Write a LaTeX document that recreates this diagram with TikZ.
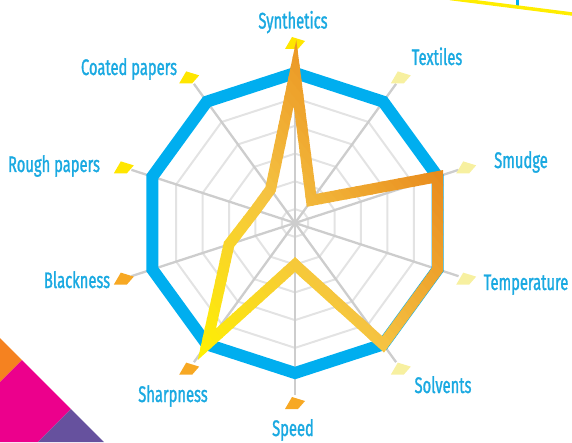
\documentclass[tikz,border=0pt]{standalone}
\usepackage{fontspec}
\newfontfamily\labfont[FakeStretch=0.655, FakeBold=1.2]{Fira Sans}
\usetikzlibrary{calc}
\definecolor{lblue}{HTML}{1AA9E1}
\definecolor{cyanb}{HTML}{00AEEF}
\definecolor{ringgray}{HTML}{E3E3E3}
\definecolor{spokegray}{HTML}{CDCDCD}
\definecolor{fyel}{HTML}{FFE600}
\definecolor{fpale}{HTML}{F7F0A0}
\definecolor{fora}{HTML}{F7A823}
\definecolor{gyel}{HTML}{FFF100}
\definecolor{gmid}{HTML}{F5C342}
\definecolor{gora}{HTML}{E88A1C}
\definecolor{dorange}{HTML}{F58220}
\definecolor{dpink}{HTML}{EC008C}
\definecolor{dpurple}{HTML}{66519E}
\definecolor{dyellow}{HTML}{FFED00}
\begin{document}
\begin{tikzpicture}[x=1pt,y=1pt,
  ring/.style={draw=ringgray, line width=2pt, line join=miter},
  spoke/.style={draw=spokegray, line width=2.3pt},
  frame/.style={draw=cyanb, line width=12pt, line join=miter},
  dataline/.style={line width=11pt, line join=miter, miter limit=12},
  lab/.style={text=lblue, font=\labfont\fontsize{22.5}{26}\selectfont, anchor=base, inner sep=0pt}]
\useasboundingbox (0,0) rectangle (572,442);
% corner decorations
\begin{scope}
  \clip (0,0) rectangle (572,442);
  \fill[dorange] (0,104) -- (22,82) -- (0,60) -- cycle;
  \fill[dpink] (22,82) -- (71,33) -- (38,0) -- (0,0) -- (0,60) -- cycle;
  \fill[dpurple] (71,33) -- (104,0) -- (38,0) -- cycle;
  \coordinate (bt) at (517,444);
  \coordinate (bb) at (517,436);
  \draw[cyanb, line width=3pt] (bt) -- (bb);
  \coordinate (ya) at (450,443.5);
  \coordinate (yb) at (576,427.5);
  \draw[dyellow, line width=3.5pt] (ya) -- (yb);
\end{scope}
\begin{scope}[shift={(295,219)}]
  \coordinate (c) at (0,0);
  \foreach \k in {0,...,4} {
    \pgfmathsetmacro\r{27.75*(\k+0.5)}
    \draw[ring] (90:\r) \foreach \a in {54,18,-18,-54,-90,-126,-162,-198,-234} {-- (\a:\r)} -- cycle;
  }
  \foreach \a/\r [count=\i] in {90/150, 54/28, 18/150, -18/150, -54/150, -90/41.6, -126/150, -162/69.4, -198/41.6, -234/41.6} {
    \coordinate (s\i) at (\a:172);
    \coordinate (b\i) at (\a:150);
    \coordinate (f\i) at (\a:180);
    \coordinate (d\i) at (\a:\r);
  }
  \foreach \i in {1,...,10} {\draw[spoke] (c) -- (s\i);}
\end{scope}
\draw[frame] (b1) -- (b2) -- (b3) -- (b4) -- (b5) -- (b6) -- (b7) -- (b8) -- (b9) -- (b10) -- cycle;
% flags
\foreach \i/\col in {1/fyel, 2/fpale, 3/fpale, 4/fpale, 5/fpale, 6/fora, 7/fora, 8/fora, 9/fyel, 10/fyel} {
  \fill[\col] (f\i) ++(-10,-6) -- ++(7,12) -- ++(13,-4) -- ++(-7,-8) -- cycle;
}
% data line with gradient (bands)
\foreach \i in {0,...,39} {
  \pgfmathsetmacro\ta{\i==0 ? -3 : \i/40}
  \pgfmathsetmacro\tb{\i==39 ? 4 : (\i+1)/40+0.004}
  \pgfmathsetmacro\tm{(\i+0.5)/40}
  \ifdim\tm pt<0.5pt
    \pgfmathtruncatemacro\p{200*\tm}
    \colorlet{bandc}{gmid!\p!gyel}
  \else
    \pgfmathtruncatemacro\p{200*(\tm-0.5)}
    \colorlet{bandc}{gora!\p!gmid}
  \fi
  \begin{scope}
    \clip ({200+240*\ta-310.5},{82+190*\ta+392}) -- ({200+240*\ta+310.5},{82+190*\ta-392}) -- ({200+240*\tb+310.5},{82+190*\tb-392}) -- ({200+240*\tb-310.5},{82+190*\tb+392}) -- cycle;
    \draw[dataline, draw=bandc] (d1) -- (d2) -- (d3) -- (d4) -- (d5) -- (d6) -- (d7) -- (d8) -- (d9) -- (d10) -- cycle;
  \end{scope}
}
% labels
\node[lab] (l1) at (293,413.5) {Synthetics};
\node[lab] (l2) at (437,377) {Textiles};
\node[lab] (l3) at (521,274) {Smudge};
\node[lab] (l4) at (526,152) {Temperature};
\node[lab] (l5) at (443,49) {Solvents};
\node[lab] (l6) at (293,6) {Speed};
\node[lab] (l7) at (173,40) {Sharpness};
\node[lab] (l8) at (77,154) {Blackness};
\node[lab] (l9) at (54,270) {Rough papers};
\node[lab] (l10) at (129,367) {Coated papers};
\end{tikzpicture}
\end{document}
